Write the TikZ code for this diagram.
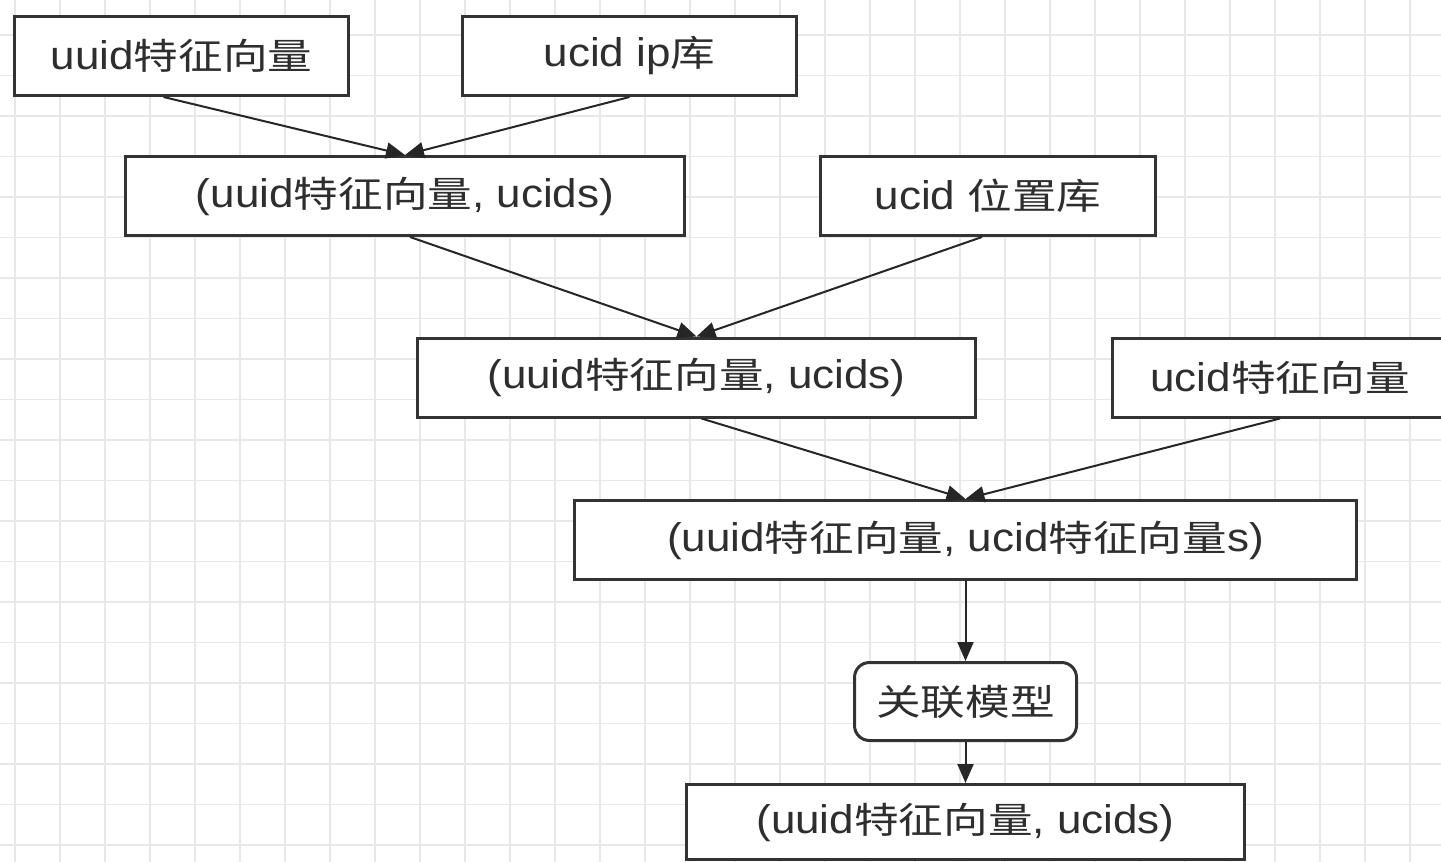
\documentclass[tikz,border=0pt]{standalone}
\usepackage{fontspec}
\setmainfont{Liberation Sans}[FakeStretch=1.1]
\newfontfamily\cjk[FakeStretch=1.24,Scale=0.9]{Noto Sans CJK SC}
\newcommand{\zh}[1]{{\cjk #1}}
\usepackage{tikz}
\usetikzlibrary{arrows.meta,backgrounds,positioning}

\begin{document}
\begin{tikzpicture}[x=0.5pt,y=-0.5pt,
  thick,->,>={Triangle[length=9.5pt,width=8pt]},
  box/.style={rectangle, draw=black!80, line width=1.5pt, fill=white,
    minimum height=39.5pt, inner sep=0pt, text=black!82,
    font=\fontsize{20pt}{24pt}\selectfont},
  link/.style={line width=1pt, draw=black!85}]
  \tikzstyle{rbox}=[box, rounded corners=7.5pt, minimum height=39pt]

  \clip (0,0) rectangle (1441,862);
  \fill[white] (0,0) rectangle (1441,862);
  \foreach \gx in {15,60,...,1440} \draw[-,gray!18,line width=0.8pt] (\gx,0) -- (\gx,862);
  \foreach \gy in {35,75.5,...,862} \draw[-,gray!18,line width=0.8pt] (0,\gy) -- (1441,\gy);

  \node[box, minimum width=167pt]   (uuid)  at (181.5,56)    {uuid\zh{特征向量}};
  \node[box, minimum width=167pt]   (ip)    at (629.5,56)    {ucid ip\zh{库}};
  \node[box, minimum width=279.5pt] (pair1) at (405,196)     {(uuid\zh{特征向量}, ucids)};
  \node[box, minimum width=167.5pt] (loc)   at (988,196)     {ucid \zh{位置库}};
  \node[box, minimum width=279pt]   (pair2) at (696.5,377.5) {(uuid\zh{特征向量}, ucids)};
  \node[box, minimum width=167.5pt] (vec)   at (1280,377.5)  {ucid\zh{特征向量}};
  \node[box, minimum width=391pt]   (pair3) at (965.5,540)   {(uuid\zh{特征向量}, ucid\zh{特征向量}s)};
  \node[rbox, minimum width=111pt, below=40pt of pair3]  (assoc)  {\zh{关联模型}};
  \node[box, minimum width=279pt, minimum height=37.5pt, below=20.5pt of assoc] (result) {(uuid\zh{特征向量}, ucids)};

  \draw[link] ([xshift=-9pt]uuid.south) -- (pair1.north);
  \draw[link] (ip.south) -- (pair1.north);
  \draw[link] ([xshift=2.5pt]pair1.south) -- (pair2.north);
  \draw[link] ([xshift=-3pt]loc.south) -- (pair2.north);
  \draw[link] ([xshift=2.5pt]pair2.south) -- (pair3.north);
  \draw[link] (vec.south) -- (pair3.north);
  \draw[link] (pair3) -- (assoc);
  \draw[link] (assoc) -- (result);
\end{tikzpicture}
\end{document}
